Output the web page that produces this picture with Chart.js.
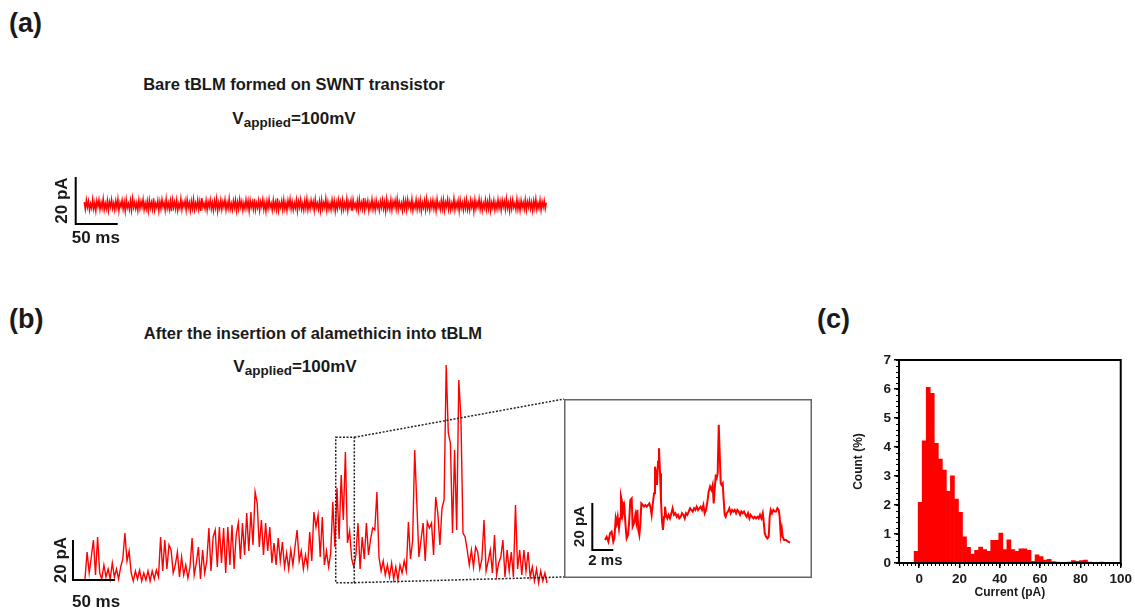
<!DOCTYPE html>
<html lang="en">
<head>
<meta charset="utf-8">
<title>tBLM / alamethicin</title>
<script src="https://cdn.jsdelivr.net/npm/chart.js@4.4.1/dist/chart.umd.min.js"></script>
<style>
  body { margin: 0; background: #fff; }
  #figura { position: relative; width: 1135px; height: 610px; overflow: hidden; font-family: "Liberation Sans", Arial, sans-serif; color: #1a1a1a; }
  .rotulo { position: absolute; font-weight: bold; white-space: nowrap; line-height: 1; font-size: 27px; }
  .titulo { position: absolute; width: 500px; text-align: center; font-weight: bold; font-size: 16.5px; line-height: 1; white-space: nowrap; }
  .tensao { font-size: 17px; }
  .tensao sub { font-size: 13.5px; vertical-align: -3px; line-height: 0; }
  canvas { position: absolute; }
</style>
</head>
<body>
<div id="figura">
  <div class="rotulo" style="left:9px; top:10px;">(a)</div>
  <div class="titulo" style="left:44px; top:76px;">Bare tBLM formed on SWNT transistor</div>
  <div class="titulo tensao" style="left:44px; top:110px;">V<sub>applied</sub>=100mV</div>

  <div class="rotulo" style="left:9px; top:306px;">(b)</div>
  <div class="titulo" style="left:63px; top:325px;">After the insertion of alamethicin into tBLM</div>
  <div class="titulo tensao" style="left:45px; top:358px;">V<sub>applied</sub>=100mV</div>

  <div class="rotulo" style="left:817px; top:306px;">(c)</div>

  <canvas id="graficoA" width="520" height="95" style="left:40px; top:160px;"></canvas>
  <canvas id="graficoB" width="530" height="265" style="left:40px; top:345px;"></canvas>
  <canvas id="graficoInset" width="248" height="179" style="left:564px; top:399px;"></canvas>
  <canvas id="graficoC" width="320" height="270" style="left:815px; top:340px;"></canvas>
</div>

<script>
// Painel (a): corrente da tBLM sem alameticina (pA), um ponto a cada 1,25 ms
const passoA = 1.25;
const correnteA = [
  1.2,-1.8,2.1,-0.9,1.6,-2.2,0.5,-1.4,2.4,-1.7,0.9,-2.5,1.8,-0.6,2.2,-1.9,1.1,-1.3,2.6,-2.0,
  0.7,-1.6,1.9,-2.3,1.4,-0.8,2.3,-1.5,0.8,-2.1,1.7,-1.1,2.5,-2.4,1.0,-0.7,2.0,-1.8,1.3,-2.6,
  2.2,-1.2,0.6,-1.9,1.8,-2.2,2.7,-1.0,1.2,-1.6,0.9,-2.3,2.1,-1.4,1.5,-0.9,2.4,-2.0,0.8,-1.7,
  1.6,-2.5,2.0,-1.3,1.1,-1.8,2.8,-2.1,0.7,-1.0,1.9,-2.4,1.4,-1.6,2.3,-0.8,1.0,-2.2,2.5,-1.5,
  0.9,-1.9,1.7,-2.6,2.2,-1.1,1.3,-1.7,2.0,-2.3,0.6,-1.4,2.6,-1.9,1.2,-0.7,1.8,-2.1,2.3,-1.2,
  1.0,-2.4,1.6,-1.5,2.4,-2.0,0.8,-1.3,2.1,-1.8,1.5,-2.5,2.9,-1.0,0.7,-1.6,1.9,-2.2,1.3,-0.9,
  2.2,-1.7,1.1,-2.3,1.7,-1.2,2.5,-2.6,0.9,-1.5,2.0,-1.9,1.4,-0.8,2.3,-2.1,1.0,-1.4,2.7,-1.8,
  0.6,-2.0,1.8,-1.1,2.1,-2.4,1.2,-1.7,2.4,-0.9,1.5,-2.2,0.8,-1.6,2.2,-1.3,1.7,-2.5,2.0,-1.0,
  1.3,-1.8,2.6,-2.1,0.9,-1.2,1.9,-2.3,1.4,-0.7,2.3,-1.9,1.1,-2.6,1.6,-1.4,2.4,-1.0,0.7,-2.2,
  2.0,-1.5,1.2,-1.9,2.8,-2.3,0.8,-1.1,1.7,-2.0,2.2,-1.6,1.0,-2.4,1.9,-0.8,2.5,-1.7,1.3,-2.1,
  0.9,-1.3,2.1,-2.5,1.5,-1.0,2.3,-1.8,0.6,-2.2,1.8,-1.4,2.6,-2.0,1.1,-1.6,2.0,-0.9,1.4,-2.3,
  2.4,-1.2,0.8,-1.9,1.6,-2.4,2.2,-1.5,1.0,-1.1,2.7,-2.2,1.3,-1.7,0.7,-2.0,2.1,-1.3,1.8,-2.6,
  1.1,-1.6,2.3,-0.8,1.5,-2.1,2.0,-1.9,0.9,-1.4,2.5,-2.3,1.2,-1.0,1.9,-2.5,2.2,-1.1,0.6,-1.8,
  1.7,-2.2,2.4,-1.3,1.0,-1.7,2.9,-2.0,1.4,-0.9,1.8,-2.4,0.8,-1.5,2.3,-1.8,1.2,-2.1,2.0,-1.2,
  0.7,-2.3,1.6,-1.0,2.2,-1.6,1.3,-2.6,2.5,-1.4,0.9,-1.9,2.1,-2.2,1.5,-0.8,1.9,-1.7,2.6,-2.0,
  1.2,-1.1,0.8,-2.4,2.0,-1.5,1.7,-2.1,2.3,-0.9,1.1,-1.8,2.4,-2.3,0.6,-1.3,2.2,-1.9,1.4,-1.6,
  2.1,-2.5,1.0,-1.2,1.8,-2.0,2.6,-1.4,0.9,-2.2,1.6,-1.1,2.0,-1.7,1.3,-2.4,2.5,-1.0,0.7,-1.9,
  1.9,-1.6,2.2,-2.3,1.2,-0.8,2.4,-1.8,1.5,-2.1,0.8,-1.5,2.7,-2.0,1.1,-1.2,1.8,-2.5,2.1,-1.3,
  1.0,-2.1,1.7,-1.4,2.3,-1.9,0.7,-2.2,2.0,-1.0,1.4,-2.6,2.2,-1.5,1.2,-0.9,2.5,-1.8,1.6,-2.3,
  0.8,-1.2,2.1,-2.0,1.3,-1.7,2.4,-2.4,1.1,-1.1,1.9,-2.1,0.9,-1.6,2.3,-1.4,1.5,-2.2,2.0,-0.8,
  1.6,-1.9,2.6,-1.3,1.0,-2.5,1.8,-1.6,2.2,-1.0,0.7,-2.0,2.4,-1.8,1.3,-2.3,1.9,-1.1,1.1,-1.7,
  2.2,-2.1,1.4,-0.9,2.0,-1.5,1.2,-2.4,1.7,-1.3,2.5,-1.9,0.8,-1.4,2.1,-2.2,1.5,-1.0,1.8,-1.6,
  1.0
];

// Painel (b): corrente após a inserção de alameticina (pA), um ponto a cada 2,5 ms
const passoB = 2.5;
const correnteB = [
  -2,11.5,1,9,17.5,0,19,1,-2,5,
  -1,3,-2,6,-1,3,-2,4,8,21,
  7,12,1,-3,2,-2,2.5,-3,1,-2.5,
  2,-3,2,-2,2.5,-1,19,2,17.5,3,
  15,12.5,1,5,11.5,-1,9,0,5,-1.5,
  4,18.5,0,6,14,-2,12.5,1,7,23.5,
  2,19,22.5,4,24,6,23.5,1,24,5,
  25,3,20,26,8,26,10,31,12,31.5,
  15,41.5,36,14,27.5,10,26,12,24,6,
  16,5,18.5,7,16.5,4,11,3,12.5,5,
  14,22.5,7,12,3,10,4,21.5,7,31.5,
  24,30,9,29,5,12,4,11,36.5,14,
  43.5,18,50,27.5,61.5,16,22,8,4,10,
  26,3,19,8,26,10,18,23.5,22.5,41.5,
  9,2,7,0,5,-1,6,-2,4,-2.5,
  5,1,7,2,26.5,8,17,62.5,36,9,
  17.5,26,7,26.5,23.5,26,10,39,31,15,
  33.5,37.5,105,71,66,21,62.5,22.5,97.5,79,
  21,19,12.5,5,12.5,4,14,11.5,3,8,
  27.5,2,7,12.5,1,20,0,6,9,17.5,
  -1,12.5,2,11.5,-1,35,3,12.5,0,12.5,
  2,11.5,-1,4,-3,3,-4,2,-3,1,
  -4
];
// Janela ampliada no inset (ms e pA)
const janelaTempo = [298.5, 320.6];
const janelaCorrente = [-3.85, 68.85];

// Inset: trecho ampliado (tempo em ms, corrente em pA)
const tempoInset = [
  0,0.16,0.32,0.48,0.63,0.79,0.89,1.02,1.11,1.21,1.33,1.43,1.52,1.62,1.71,1.84,1.94,2.06,2.19,2.29,
  2.41,2.54,2.63,2.76,2.89,2.98,3.08,3.17,3.27,3.37,3.46,3.59,3.71,3.84,3.97,4.10,4.22,4.35,4.44,4.54,
  4.67,4.76,4.86,4.95,5.05,5.14,5.24,5.33,5.43,5.52,5.62,5.71,5.81,5.94,6.06,6.19,6.32,6.44,6.57,6.70,
  6.83,6.95,7.08,7.21,7.33,7.46,7.59,7.71,7.84,7.97,8.10,8.22,8.35,8.48,8.60,8.73,8.86,8.98,9.11,9.24,
  9.37,9.49,9.62,9.75,9.87,10.0,10.13,10.25,10.35,10.44,10.54,10.63,10.73,10.83,10.92,11.02,11.11,11.21,11.30,11.40,
  11.49,11.59,11.71,11.84,11.97,12.10,12.22,12.35,12.48,12.60,12.73,12.86,12.98,13.11,13.24,13.37,13.49,13.62,13.75,13.87,
  14.0,14.13,14.25,14.38,14.51,14.63,14.76,14.89,15.02,15.11,15.21,15.33,15.46,15.59,15.68,15.78,15.90,16.03,16.16,16.29,
  16.41,16.54,16.63,16.73,16.83,16.92,17.05,17.24,17.43,17.62
];
const correnteInset = [
  1.4,2.8,0.7,4.3,5.0,0.7,2.1,10.6,8.5,11.3,6.4,10.6,19.9,17.7,12.8,15.6,8.5,2.1,3.5,8.5,
  18.4,19.1,7.1,8.5,12.1,9.2,14.2,5.7,3.5,8.5,17.0,16.3,15.6,16.3,15.6,16.3,17.0,14.9,12.1,16.3,
  21.3,32.6,29.8,24.8,34.8,40.4,29.8,18.4,9.2,5.7,11.3,15.6,12.1,10.6,12.1,10.6,12.8,14.9,12.1,12.8,
  11.3,12.1,10.6,11.3,12.8,12.1,10.6,12.8,12.1,13.5,14.9,14.2,13.5,14.9,14.2,15.6,14.2,14.9,15.6,14.2,
  16.3,12.8,14.2,17.7,22.0,24.1,22.7,24.8,17.0,22.7,28.4,27.7,29.8,50.4,38.3,25.5,24.8,25.5,18.4,12.1,
  11.3,12.8,13.5,14.9,12.8,14.2,13.5,14.2,12.8,14.2,13.5,12.1,13.5,12.8,13.5,12.1,11.3,12.8,10.6,12.1,
  11.3,10.6,11.3,10.6,11.3,10.6,12.1,10.6,12.8,9.2,4.3,2.8,2.1,2.8,11.3,14.2,12.8,14.2,13.5,13.5,
  14.9,14.2,11.3,3.5,6.4,2.8,1.4,1.4,0.7,0.3
];

// Painel (c): histograma da corrente, bins de 2 pA
const centrosBins = [
  -1.5,0.5,2.5,4.5,6.5,8.5,10.5,12.5,14.5,16.5,18.5,20.5,22.5,24.5,26.5,28.5,30.5,32.5,34.5,36.5,
  38.5,40.5,42.5,44.5,46.5,48.5,50.5,52.5,54.5,56.5,58.5,60.5,62.5,64.5,66.5,68.5,70.5,72.5,74.5,76.5,
  78.5,80.5,82.5,84.5,86.5,88.5,90.5,92.5
];
const contagemBins = [
  0.40,2.09,4.21,6.06,5.85,4.13,3.58,3.20,2.47,3.01,2.20,1.75,0.90,0.54,0.31,0.44,0.55,0.46,0.40,0.78,
  0.78,1.03,0.46,0.80,0.46,0.40,0.49,0.49,0.44,0.06,0.28,0.22,0.10,0.13,0.05,0.03,0.01,0.02,0.03,0.08,
  0.06,0.08,0.10,0.03,0.01,0.01,0.03,0.01
];
const ticksX = [0, 20, 40, 60, 80, 100];
const ticksY = [0, 1, 2, 3, 4, 5, 6, 7];

const VERMELHO = '#ff0000';
const FONTE = '"Liberation Sans", Arial, sans-serif';

// Função para montar os pontos {x, y} de um traço
function montarPontos(valores, passo, tempos) {
    return valores.map((v, i) => ({ x: tempos ? tempos[i] : i * passo, y: v }));
}

// Função para desenhar a barra de escala (pA / ms) usando as escalas do gráfico
function barraDeEscala(cfg) {
    return {
        id: 'barraDeEscala',
        afterDatasetsDraw(chart) {
            const { ctx, scales: { x, y } } = chart;
            const x0 = x.getPixelForValue(cfg.t0);
            const x1 = x.getPixelForValue(cfg.t0 + cfg.dt);
            const y0 = y.getPixelForValue(cfg.v0);
            const y1 = y.getPixelForValue(cfg.v0 + cfg.dv);
            ctx.save();
            ctx.strokeStyle = '#000';
            ctx.lineWidth = cfg.espessura;
            ctx.beginPath();
            ctx.moveTo(x0, y1);
            ctx.lineTo(x0, y0);
            ctx.lineTo(x1, y0);
            ctx.stroke();
            ctx.fillStyle = '#1a1a1a';
            ctx.font = 'bold ' + cfg.fonte + 'px ' + FONTE;
            // rótulo vertical
            ctx.save();
            ctx.translate(x0 - cfg.afastV, (y0 + y1) / 2);
            ctx.rotate(-Math.PI / 2);
            ctx.textAlign = 'center';
            ctx.textBaseline = 'bottom';
            ctx.fillText(cfg.textoV, 0, 0);
            ctx.restore();
            // rótulo horizontal
            ctx.textAlign = 'left';
            ctx.textBaseline = 'alphabetic';
            ctx.fillText(cfg.textoH, x0 - cfg.recuoH, y0 + cfg.baseH);
            ctx.restore();
        }
    };
}

// Função para as opções comuns dos traços de corrente
function opcoesTraco(xMin, xMax, yMin, yMax) {
    return {
        responsive: false,
        animation: false,
        layout: { padding: 0 },
        plugins: { legend: { display: false }, tooltip: { enabled: false } },
        scales: {
            x: { type: 'linear', min: xMin, max: xMax, display: false },
            y: { type: 'linear', min: yMin, max: yMax, display: false }
        },
        elements: { point: { radius: 0 }, line: { tension: 0 } }
    };
}

// Gráfico (a)
new Chart(document.getElementById('graficoA'), {
    type: 'line',
    data: {
        datasets: [{
            data: montarPontos(correnteA, passoA),
            borderColor: VERMELHO,
            borderWidth: 1.5
        }]
    },
    options: opcoesTraco(-52.7, 566.3, -21.3, 19.15),
    plugins: [barraDeEscala({ t0: -10.2, dt: 50, v0: -8.1, dv: 20, espessura: 2,
        fonte: 17, textoV: '20 pA', textoH: '50 ms', afastV: 5, recuoH: 4, baseH: 19 })]
});

// Janela pontilhada e linhas até o inset
const janelaZoom = {
    id: 'janelaZoom',
    afterDatasetsDraw(chart) {
        const { ctx, scales: { x, y } } = chart;
        const xl = x.getPixelForValue(janelaTempo[0]);
        const xr = x.getPixelForValue(janelaTempo[1]);
        const yt = y.getPixelForValue(janelaCorrente[1]);
        const yb = y.getPixelForValue(janelaCorrente[0]);
        // canto esquerdo do inset em coordenadas deste canvas
        const insetX = 564 - 40, insetTopo = 399 - 345, insetBase = 577 - 345;
        ctx.save();
        ctx.strokeStyle = '#222';
        ctx.lineWidth = 1.5;
        ctx.setLineDash([2, 1.6]);
        ctx.strokeRect(xl, yt, xr - xl, yb - yt);
        ctx.beginPath();
        ctx.moveTo(xr, yt);
        ctx.lineTo(insetX, insetTopo);
        ctx.moveTo(xr, yb);
        ctx.lineTo(insetX, insetBase);
        ctx.stroke();
        ctx.restore();
    }
};

// Gráfico (b)
new Chart(document.getElementById('graficoB'), {
    type: 'line',
    data: {
        datasets: [{
            data: montarPontos(correnteB, passoB),
            borderColor: VERMELHO,
            borderWidth: 1.4
        }]
    },
    options: opcoesTraco(-53.57, 577.38, -17.5, 115),
    plugins: [janelaZoom, barraDeEscala({ t0: -14.3, dt: 50, v0: -2.5, dv: 20, espessura: 2,
        fonte: 17, textoV: '20 pA', textoH: '50 ms', afastV: 3, recuoH: 1, baseH: 27 })]
});

// Moldura cinza do inset
const molduraInset = {
    id: 'molduraInset',
    afterDraw(chart) {
        const { ctx, width, height } = chart;
        ctx.save();
        ctx.strokeStyle = '#666';
        ctx.lineWidth = 1.5;
        ctx.strokeRect(0.75, 0.75, width - 1.5, height - 1.5);
        ctx.restore();
    }
};

// Inset
new Chart(document.getElementById('graficoInset'), {
    type: 'line',
    data: {
        datasets: [{
            data: montarPontos(correnteInset, 0, tempoInset),
            borderColor: VERMELHO,
            borderWidth: 2
        }]
    },
    options: opcoesTraco(-3.905, 19.71, -14.77, 61.4),
    plugins: [molduraInset, barraDeEscala({ t0: -1.21, dt: 2, v0: -2.85, dv: 20, espessura: 2,
        fonte: 15, textoV: '20 pA', textoH: '2 ms', afastV: 5, recuoH: 4, baseH: 15 })]
});

// Ticks menores e moldura do histograma
const eixosHistograma = {
    id: 'eixosHistograma',
    afterDraw(chart) {
        const { ctx, chartArea: a, scales: { x, y } } = chart;
        ctx.save();
        ctx.strokeStyle = '#000';
        ctx.lineWidth = 1;
        ctx.beginPath();
        for (let v = -10; v <= 100; v += 2) {
            const px = Math.round(x.getPixelForValue(v)) + 0.5;
            ctx.moveTo(px, a.bottom);
            ctx.lineTo(px, a.bottom + 3);
        }
        for (let k = 0; k <= 35; k++) {
            const py = Math.round(y.getPixelForValue(k * 0.2)) + 0.5;
            ctx.moveTo(a.left, py);
            ctx.lineTo(a.left - 3, py);
        }
        ctx.stroke();
        ctx.lineWidth = 2;
        ctx.strokeRect(a.left, a.top, a.right - a.left, a.bottom - a.top);
        ctx.restore();
    }
};

// Gráfico (c)
new Chart(document.getElementById('graficoC'), {
    type: 'bar',
    data: {
        datasets: [{
            data: centrosBins.map((c, i) => ({ x: c, y: contagemBins[i] })),
            backgroundColor: VERMELHO,
            borderWidth: 0,
            barPercentage: 1,
            categoryPercentage: 1
        }]
    },
    options: {
        responsive: false,
        animation: false,
        layout: { padding: { top: 20, right: 11, left: 0, bottom: 0 } },
        plugins: { legend: { display: false }, tooltip: { enabled: false } },
        scales: {
            x: {
                type: 'linear', min: -10, max: 100, offset: false,
                afterBuildTicks: s => { s.ticks = ticksX.map(v => ({ value: v })); },
                afterFit: s => { s.height = 47; },
                grid: { offset: false, drawOnChartArea: false, tickLength: 5, color: '#000', lineWidth: 1.5 },
                border: { display: false },
                ticks: { color: '#1a1a1a', padding: 3, maxRotation: 0, font: { family: FONTE, weight: 'bold', size: 13.5 } },
                title: { display: true, text: 'Current (pA)', color: '#1a1a1a', padding: { top: 0, bottom: 10 },
                    font: { family: FONTE, weight: 'bold', size: 12 } }
            },
            y: {
                type: 'linear', min: 0, max: 7,
                afterBuildTicks: s => { s.ticks = ticksY.map(v => ({ value: v })); },
                afterFit: s => { s.width = 84; },
                grid: { drawOnChartArea: false, tickLength: 5, color: '#000', lineWidth: 1.5 },
                border: { display: false },
                ticks: { color: '#1a1a1a', padding: 3, font: { family: FONTE, weight: 'bold', size: 13.5 } },
                title: { display: true, text: 'Count (%)', color: '#1a1a1a', padding: { top: 36, bottom: 0 },
                    font: { family: FONTE, weight: 'bold', size: 12 } }
            }
        }
    },
    plugins: [eixosHistograma]
});
</script>
</body>
</html>
